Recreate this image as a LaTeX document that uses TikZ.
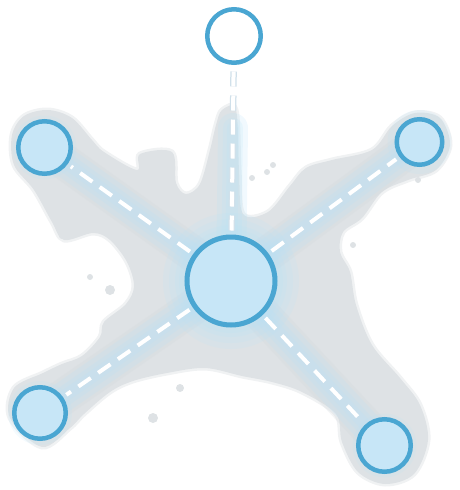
\documentclass[tikz,border=0pt]{standalone}
\definecolor{ring}{RGB}{74,166,210}
\definecolor{disc}{RGB}{199,230,247}
\definecolor{blob}{RGB}{222,226,229}
\definecolor{blobdark}{RGB}{210,216,220}
\definecolor{glowc}{RGB}{185,226,248}
\definecolor{dashedge}{RGB}{208,224,234}
\begin{document}
\begin{tikzpicture}[x=1pt,y=-1pt,
  hub/.style={circle, draw=ring, fill=disc, line width=4.5pt, inner sep=0pt},
  dashline/.style={draw=white, line width=4pt, dash pattern=on 15pt off 9pt, shorten <=4pt, shorten >=4pt},
  dashrim/.style={draw=dashedge, line width=6.5pt, dash pattern=on 15pt off 9pt, shorten <=4pt, shorten >=4pt},
  glowline/.style={draw=glowc, line cap=round, opacity=0.2},
  blobshape/.style={fill=blob, draw=blob, line width=5pt, draw opacity=0.45},
  speck/.style={fill=blob},
]
\useasboundingbox (0,0) rectangle (460,490);
\coordinate (pc) at (231,281);
\coordinate (pt) at (234,36);
\coordinate (ptl) at (44.5,147.5);
\coordinate (ptr) at (419.5,142);
\coordinate (pbl) at (40,413);
\coordinate (pbr) at (384.5,445.5);
\coordinate (ptop) at (233,128);

% grey cloud
\path[blobshape] plot[smooth cycle, tension=0.55] coordinates {
(222,110) (236,110) (239,170) (243,214) (268,212) (290,186) (306,168) (332,160)
(372,150) (392,126) (415,113) (440,118) (450,145) (436,170) (408,180) (382,192)
(362,218) (343,232) (340,252) (350,272) (356,305) (372,345) (400,378) (420,405)
(428,440) (414,474) (385,484) (358,472) (342,442) (336,414) (302,392) (272,382)
(242,376) (205,368) (167,373) (133,381) (110,392) (84,414) (70,428) (42,447)
(10,418) (14,388) (43,373) (62,364) (82,356) (100,337) (104,322) (126,304)
(134,286) (127,262) (110,240) (93,233) (64,240) (52,222) (34,190) (14,165)
(12,135) (24,116) (48,110) (72,118) (92,140) (104,152) (137,170) (140,154)
(172,152) (176,183) (186,194) (200,184) (210,150) (216,125)};
\foreach \p/\r in {(90,277)/3,(110,290)/5,(180,388)/4,(153,418)/5,(418,180)/3,
  (353,245)/3,(252,178)/3,(267,172)/3,(273,165)/3,(62,236)/3}
  \fill[speck] \p circle (\r pt);
% darker inner shading along the arms
\foreach \q in {ptl,ptr,pbl,pbr}
  \draw[blobdark, opacity=0.25, line width=36pt, line cap=round] (pc) -- (\q);

% glow
\foreach \w in {30,20,12}{
  \foreach \q in {ptl,ptr,pbl,pbr,ptop}
    \draw[glowline, line width=\w pt] (pc) -- (\q);
}
\foreach \rr in {68,62,56,52}
  \fill[glowc, opacity=0.16] (pc) circle (\rr pt);
\foreach \q in {ptl,ptr,pbl,pbr}
  \fill[glowc, opacity=0.15] (\q) circle (32pt);

% nodes
\node[hub, minimum size=88pt, line width=5pt] (c) at (pc) {};
\node[hub, fill=white, minimum size=53.5pt] (t) at (pt) {};
\node[hub, minimum size=52.5pt] (tl) at (ptl) {};
\node[hub, minimum size=45.5pt] (tr) at (ptr) {};
\node[hub, minimum size=51.5pt] (bl) at (pbl) {};
\node[hub, minimum size=52.5pt] (br) at (pbr) {};

% connectors
\draw[dashrim] (c) -- (t);
\draw[dashline] (c) -- (t);
\foreach \q in {tl,tr,bl,br}
  \draw[dashline] (c) -- (\q);
\end{tikzpicture}
\end{document}
